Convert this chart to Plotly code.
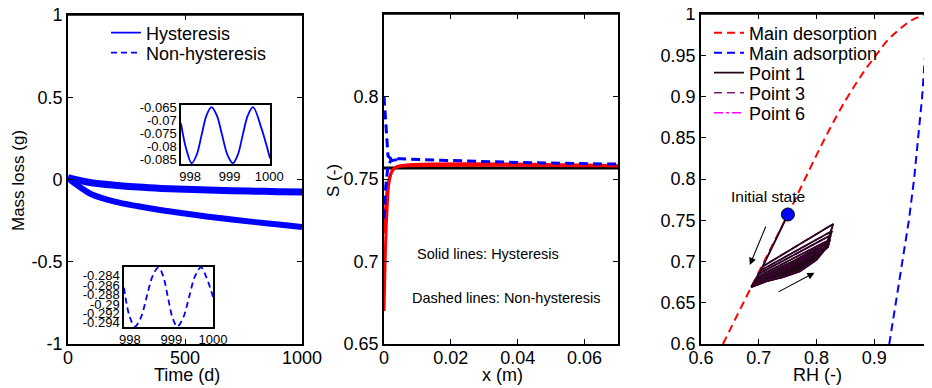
import plotly.graph_objects as go

# ---------------- Panel 1: mass loss vs time ----------------
time_d = [0, 20, 50, 100, 200, 300, 400, 500, 600, 700, 800, 900, 1000]
mass_hyst = [0.012, 0.004, -0.006, -0.02, -0.035, -0.046, -0.054, -0.060, -0.064, -0.068, -0.071, -0.074, -0.076]
mass_nonhyst = [0.012, -0.015, -0.045, -0.09, -0.135, -0.163, -0.187, -0.207, -0.226, -0.243, -0.259, -0.274, -0.289]

# inset (hysteresis, last two days)
t_in_h = [997.77, 997.90, 998.04, 998.165, 998.29, 998.415, 998.54, 998.675, 998.81, 998.945,
          999.08, 999.205, 999.33, 999.46, 999.59, 999.80, 1000.02]
m_in_h = [-0.0713, -0.0810, -0.0866, -0.0834, -0.0758, -0.0682, -0.0650, -0.0682, -0.0758, -0.0834,
          -0.0866, -0.0834, -0.0758, -0.0682, -0.0650, -0.0730, -0.0847]
# inset (non-hysteresis, last two days)
t_in_n = [997.86, 997.99, 998.12, 998.26, 998.405, 998.55, 998.69, 998.80, 998.915, 999.03,
          999.14, 999.28, 999.425, 999.57, 999.71, 999.85, 1000.0]
m_in_n = [-0.2865, -0.2925, -0.2948, -0.2930, -0.2885, -0.2840, -0.2822, -0.2840, -0.2885, -0.2930,
          -0.2948, -0.2930, -0.2885, -0.2840, -0.2822, -0.2845, -0.2885]

# ---------------- Panel 2: saturation profiles ----------------
x_black = [0, 0.07]
s_black = [0.7567, 0.7567]
x_red1 = [0, 0.0005, 0.001, 0.0015, 0.0025, 0.004, 0.006, 0.07]
s_red1 = [0.670, 0.712, 0.735, 0.748, 0.755, 0.7575, 0.758, 0.758]
x_red2 = [0, 0.0005, 0.001, 0.002, 0.003, 0.005, 0.07]
s_red2 = [0.717, 0.733, 0.744, 0.753, 0.7565, 0.758, 0.758]
x_blue1 = [0, 0.0006, 0.0012, 0.002, 0.005, 0.02, 0.04, 0.07]
s_blue1 = [0.800, 0.780, 0.764, 0.7622, 0.7622, 0.7612, 0.760, 0.759]
x_blue2 = [0, 0.0005, 0.0012, 0.002, 0.005]
s_blue2 = [0.726, 0.745, 0.758, 0.761, 0.7622]

# ---------------- Panel 3: sorption isotherms ----------------
des_rh = [0.638, 0.687, 0.7505, 0.78, 0.815, 0.85, 0.88, 0.903, 0.923, 0.943, 0.966, 0.989, 1.0]
des_s = [0.60, 0.669, 0.757, 0.80, 0.85, 0.895, 0.928, 0.95, 0.968, 0.981, 0.993, 0.999, 1.0]
ads_rh = [0.926, 0.948, 0.960, 0.969, 0.976, 0.983, 0.988, 0.993, 0.997]
ads_s = [0.60, 0.70, 0.75, 0.80, 0.85, 0.90, 0.95, 0.98, 1.0]

init_rh = [0.7505, 0.707, 0.687]
init_s = [0.757, 0.694, 0.669]
scan_ads_rh = [0.687, 0.713, 0.742, 0.771, 0.800, 0.814]
scan_ads_s = [0.669, 0.676, 0.681, 0.688, 0.702, 0.714]
loop_right_rh = [0.829, 0.827, 0.825, 0.824, 0.822, 0.821]
loop_right_s = [0.7455, 0.737, 0.732, 0.727, 0.722, 0.718]
loop_left_rh = [0.707, 0.703, 0.700, 0.697, 0.694, 0.691]
loop_left_s = [0.694, 0.689, 0.685, 0.681, 0.677, 0.673]
dense_rh = [0.687, 0.713, 0.742, 0.771, 0.800, 0.814, 0.821, 0.824, 0.76, 0.697, 0.687]
dense_s = [0.669, 0.676, 0.681, 0.688, 0.702, 0.714, 0.718, 0.727, 0.701, 0.681, 0.669]

scan_rh = list(init_rh)
scan_s = list(init_s)
for k in range(len(loop_right_rh)):
    scan_rh += scan_ads_rh[1:] + [loop_right_rh[k], loop_left_rh[k], scan_ads_rh[0]]
    scan_s += scan_ads_s[1:] + [loop_right_s[k], loop_left_s[k], scan_ads_s[0]]

# page body has an 8px margin: map window pixels to paper fractions
OFF = 8
W, H = 932 - OFF, 388 - OFF
def px(x):
    return (x - OFF) / W
def py(y):
    return 1 - (y - OFF) / H

FONT = "Liberation Sans, Arial, sans-serif"
BLUE = "#0000ff"
RED = "#ff0000"
DARK = "#25061b"
TICK = 18

fig = go.Figure()

# Panel 1
fig.add_trace(go.Scatter(x=time_d, y=mass_hyst, mode="lines", line=dict(color=BLUE, width=7, shape="spline"),
                         showlegend=False, xaxis="x", yaxis="y"))
fig.add_trace(go.Scatter(x=time_d, y=mass_nonhyst, mode="lines", line=dict(color=BLUE, width=6, shape="spline"),
                         showlegend=False, xaxis="x", yaxis="y"))
fig.add_trace(go.Scatter(x=t_in_h, y=m_in_h, mode="lines", name="Hysteresis",
                         line=dict(color=BLUE, width=1.8, shape="spline"), xaxis="x4", yaxis="y4", legend="legend"))
fig.add_trace(go.Scatter(x=t_in_n, y=m_in_n, mode="lines", name="Non-hysteresis",
                         line=dict(color=BLUE, width=1.8, dash="6px,4px", shape="spline"), xaxis="x5", yaxis="y5",
                         legend="legend2"))

# Panel 2
fig.add_trace(go.Scatter(x=x_black, y=s_black, mode="lines", line=dict(color="black", width=3),
                         showlegend=False, xaxis="x2", yaxis="y2"))
for xr, sr in [(x_red1, s_red1), (x_red2, s_red2)]:
    fig.add_trace(go.Scatter(x=xr, y=sr, mode="lines", line=dict(color=RED, width=3, shape="spline"),
                             showlegend=False, xaxis="x2", yaxis="y2"))
for xb, sb in [(x_blue1, s_blue1), (x_blue2, s_blue2)]:
    fig.add_trace(go.Scatter(x=xb, y=sb, mode="lines", line=dict(color=BLUE, width=3, dash="9px,5px"),
                             showlegend=False, xaxis="x2", yaxis="y2"))

# Panel 3
fig.add_trace(go.Scatter(x=des_rh, y=des_s, mode="lines", name="Main desorption",
                         line=dict(color=RED, width=2, dash="8px,5px", shape="spline"),
                         xaxis="x3", yaxis="y3", legend="legend3", cliponaxis=False))
fig.add_trace(go.Scatter(x=ads_rh, y=ads_s, mode="lines", name="Main adsorption",
                         line=dict(color=BLUE, width=2, dash="8px,5px"),
                         xaxis="x3", yaxis="y3", legend="legend4", cliponaxis=False))
fig.add_trace(go.Scatter(x=dense_rh, y=dense_s, mode="lines", fill="toself", fillcolor=DARK,
                         line=dict(color=DARK, width=1), showlegend=False, xaxis="x3", yaxis="y3"))
fig.add_trace(go.Scatter(x=scan_rh, y=scan_s, mode="lines", name="Point 6",
                         line=dict(color="#ff00ff", width=1.5, dash="dashdot"),
                         xaxis="x3", yaxis="y3", legend="legend7"))
fig.add_trace(go.Scatter(x=scan_rh, y=scan_s, mode="lines", name="Point 3",
                         line=dict(color="#7b1c73", width=1.5, dash="8px,5px"),
                         xaxis="x3", yaxis="y3", legend="legend6"))
fig.add_trace(go.Scatter(x=scan_rh, y=scan_s, mode="lines", name="Point 1",
                         line=dict(color=DARK, width=1.8),
                         xaxis="x3", yaxis="y3", legend="legend5"))
fig.add_trace(go.Scatter(x=[init_rh[0]], y=[init_s[0]], mode="markers",
                         marker=dict(size=13, color=BLUE, line=dict(color="black", width=1)),
                         showlegend=False, xaxis="x3", yaxis="y3"))

axis_common = dict(showline=True, linecolor="black", linewidth=1.6, mirror="ticks", ticks="inside",
                   ticklen=5, tickwidth=1, tickcolor="black", showgrid=False, zeroline=False,
                   automargin=False, ticklabeloverflow="allow",
                   tickfont=dict(size=TICK, family=FONT, color="black"))
xax_common = dict(axis_common, ticklabelstandoff=-3)
inset_common = dict(showline=True, linecolor="black", linewidth=1.5, mirror=True, ticks="",
                    showgrid=False, zeroline=False, automargin=False, ticklabeloverflow="allow",
                    tickfont=dict(size=13, family=FONT, color="black"))

def leg(x, y):
    return dict(x=px(x), y=py(y), xanchor="left", yanchor="middle", bgcolor="rgba(0,0,0,0)",
                borderwidth=0, font=dict(size=TICK, family=FONT, color="black"))

# panel boxes in window pixels (left, top, right, bottom)
boxes = [(68, 15, 302, 344), (384, 14, 618, 344), (701, 14, 932, 344)]

fig.update_layout(
    template="none",
    width=W, height=H, margin=dict(l=0, r=0, t=0, b=0, autoexpand=False),
    paper_bgcolor="white", plot_bgcolor="white",
    font=dict(family=FONT, size=16, color="black"),
    xaxis=dict(domain=[px(68), px(302)], range=[0, 1000], anchor="y",
               tickvals=[0, 500, 1000], ticktext=["0", "500", "1000"], **xax_common),
    yaxis=dict(domain=[py(344), py(15)], range=[-1, 1], anchor="x",
               tickvals=[-1, -0.5, 0, 0.5, 1], ticktext=["-1", "-0.5", "0", "0.5", "1"], **axis_common),
    xaxis2=dict(domain=[px(384), px(618)], range=[0, 0.07], anchor="y2",
                tickvals=[0, 0.02, 0.04, 0.06], ticktext=["0", "0.02", "0.04", "0.06"], **xax_common),
    yaxis2=dict(domain=[py(344), py(14)], range=[0.65, 0.85], anchor="x2",
                tickvals=[0.65, 0.7, 0.75, 0.8], ticktext=["0.65", "0.7", "0.75", "0.8"], **axis_common),
    xaxis3=dict(domain=[px(701), 1.0], range=[0.6, 1.0], anchor="y3",
                tickvals=[0.6, 0.7, 0.8, 0.9, 1.0], ticktext=["0.6", "0.7", "0.8", "0.9", "1"], **xax_common),
    yaxis3=dict(domain=[py(344), py(14)], range=[0.6, 1.0], anchor="x3",
                tickvals=[0.6, 0.65, 0.7, 0.75, 0.8, 0.85, 0.9, 0.95, 1.0],
                ticktext=["0.6", "0.65", "0.7", "0.75", "0.8", "0.85", "0.9", "0.95", "1"], **axis_common),
    xaxis4=dict(domain=[px(181), px(270)], range=[997.77, 1000.02], anchor="y4",
                tickvals=[998, 999, 1000], ticktext=["998", "999", "1000"], **inset_common),
    yaxis4=dict(domain=[py(164), py(105)], range=[-0.0869, -0.0642], anchor="x4",
                tickvals=[-0.065, -0.07, -0.075, -0.08, -0.085],
                ticktext=["-0.065", "-0.07", "-0.075", "-0.08", "-0.085"], **inset_common),
    xaxis5=dict(domain=[px(124), px(213)], range=[997.86, 1000.0], anchor="y5",
                tickvals=[998, 999, 1000], ticktext=["998", "999", "1000"], **inset_common),
    yaxis5=dict(domain=[py(327), py(267)], range=[-0.2949, -0.2821], anchor="x5",
                tickvals=[-0.284, -0.286, -0.288, -0.29, -0.292, -0.294],
                ticktext=["-0.284", "-0.286", "-0.288", "-0.29", "-0.292", "-0.294"], **inset_common),
    legend=leg(106, 33),
    legend2=leg(106, 53),
    legend3=leg(709, 33),
    legend4=leg(709, 53),
    legend5=leg(709, 73),
    legend6=leg(709, 93),
    legend7=leg(709, 113),
    shapes=[dict(type="line", xref="paper", yref="paper", x0=px(l), x1=min(px(r), 1.0), y0=py(t), y1=py(t),
                 line=dict(color="black", width=1.6), layer="above") for (l, t, r, b) in boxes],
)

ann = []
def title_ann(text, x, y, angle=0, size=18):
    return dict(text=text, x=px(x), y=py(y), xref="paper", yref="paper", showarrow=False,
                xanchor="center", yanchor="middle", textangle=angle, font=dict(size=size, family=FONT))
ann.append(title_ann("Mass loss (g)", 18, 181, -90, 17))
ann.append(title_ann("Time (d)", 187, 375))
ann.append(title_ann("S (-)", 333, 181, -90, 17))
ann.append(title_ann("x (m)", 502, 375))
ann.append(title_ann("RH (-)", 817, 375))
ann.append(dict(text="Solid lines: Hysteresis", x=0.0311, y=0.7045, xref="x2", yref="y2", showarrow=False,
                font=dict(size=14.5, family=FONT)))
ann.append(dict(text="Dashed lines: Non-hysteresis", x=0.0365, y=0.6779, xref="x2", yref="y2", showarrow=False,
                font=dict(size=14.5, family=FONT)))
ann.append(dict(text="Initial state", x=0.7155, y=0.7794, xref="x3", yref="y3", showarrow=False,
                font=dict(size=15.5, family=FONT)))
for (hx, hy, tx, ty) in [(0.6845, 0.6958, 0.7133, 0.7442), (0.7966, 0.6864, 0.7316, 0.6622)]:
    ann.append(dict(text="", x=hx, y=hy, ax=tx, ay=ty, xref="x3", yref="y3", axref="x3", ayref="y3",
                    showarrow=True, arrowhead=2, arrowsize=1.3, arrowwidth=1.1, arrowcolor="black",
                    standoff=0, startstandoff=0))
fig.update_layout(annotations=ann)

fig.write_html("out.html")
